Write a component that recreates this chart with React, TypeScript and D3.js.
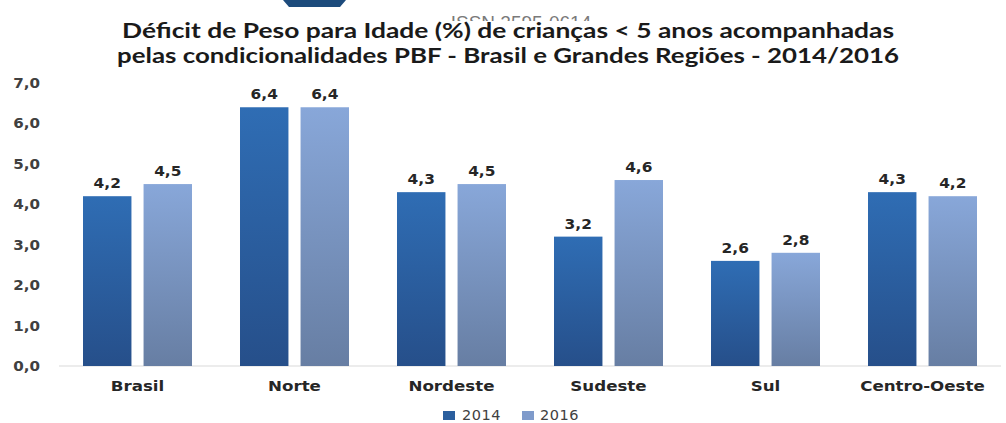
import React from "react"
import * as d3 from "d3"

const WIDTH = 1006
const HEIGHT = 423
const MARGIN = { top: 83, right: 5, bottom: 57, left: 59 }

const categories = ["Brasil", "Norte", "Nordeste", "Sudeste", "Sul", "Centro-Oeste"]
const series = ["2014", "2016"]
const values2014 = [4.2, 6.4, 4.3, 3.2, 2.6, 4.3]
const values2016 = [4.5, 6.4, 4.5, 4.6, 2.8, 4.2]
const yTicks = [0, 1, 2, 3, 4, 5, 6, 7]

const titleLines = [
    "Déficit de Peso para Idade (%) de crianças < 5 anos acompanhadas",
    "pelas condicionalidades PBF - Brasil e Grandes Regiões - 2014/2016",
]

const fmt = (v: number) => v.toFixed(1).replace(".", ",")

// the source image is a bit stretched sideways, so stretch texts the same way
const stretch = (cx: number, cy: number, k: number) =>
    `translate(${cx},${cy}) scale(${k},1) translate(${-cx},${-cy})`

export default function App() {
    const boundsWidth = WIDTH - MARGIN.left - MARGIN.right
    const boundsHeight = HEIGHT - MARGIN.top - MARGIN.bottom

    const x0 = d3.scaleBand().domain(categories).range([0, boundsWidth]).paddingInner(0).paddingOuter(0)
    const x1 = d3.scaleBand().domain(series).range([24, x0.bandwidth() - 24]).paddingInner(0.2)
    const y = d3.scaleLinear().domain([0, 7]).range([boundsHeight, 0])

    const rows = categories.map((c, i) => ({ c, vals: [values2014[i], values2016[i]] }))

    return (
        <svg width={WIDTH} height={HEIGHT} style={{ position: "absolute", left: 0, top: 0, background: "#fff" }}>
            <defs>
                <linearGradient id="g2014" x1="0" y1="0" x2="0" y2="1">
                    <stop offset="0%" stopColor="#2f6db4" />
                    <stop offset="100%" stopColor="#264f8a" />
                </linearGradient>
                <linearGradient id="g2016" x1="0" y1="0" x2="0" y2="1">
                    <stop offset="0%" stopColor="#88a7d9" />
                    <stop offset="100%" stopColor="#677ea3" />
                </linearGradient>
                <clipPath id="issnClip">
                    <rect x={0} y={0} width={WIDTH} height={21} />
                </clipPath>
            </defs>
            <rect width={WIDTH} height={HEIGHT} fill="#fff" />

            {/* header fragment */}
            <path d="M283,0 L346,0 L340,7 L289,7 Z" fill="#1d4b7c" />
            <text x={521} y={29} textAnchor="middle" fontFamily="Liberation Sans, Arial" fontSize={19}
                fill="#7a7a7a" clipPath="url(#issnClip)">ISSN 2595-0614</text>

            {titleLines.map((t, i) => (
                <text key={i} x={508} y={38 + i * 25} textAnchor="middle" fontFamily="Lato" fontWeight="bold"
                    fontSize={21} fill="#1a1a1a" textLength={i === 0 ? 772 : 782} lengthAdjust="spacingAndGlyphs">
                    {t}
                </text>
            ))}

            <g transform={`translate(${MARGIN.left},${MARGIN.top})`}>
                {yTicks.map((t) => (
                    <text key={t} x={-19} y={y(t) + 5} textAnchor="end" fontFamily="DejaVu Sans" fontWeight="bold"
                        fontSize={13.5} fill="#404040" transform={stretch(-19, y(t), 1.12)}>
                        {fmt(t)}
                    </text>
                ))}
                <line x1={0} x2={boundsWidth} y1={boundsHeight} y2={boundsHeight} stroke="#d9d9d9" strokeWidth={1} />

                {rows.map((r) => (
                    <g key={r.c} transform={`translate(${x0(r.c)},0)`}>
                        {r.vals.map((v, j) => {
                            const bx = x1(series[j]) as number
                            const cx = bx + x1.bandwidth() / 2
                            return (
                                <g key={j}>
                                    <rect x={bx} y={y(v)} width={x1.bandwidth()} height={boundsHeight - y(v)}
                                        fill={`url(#g${series[j]})`} />
                                    <text x={cx} y={y(v) - 8} textAnchor="middle"
                                        fontFamily="DejaVu Sans" fontWeight="bold" fontSize={14} fill="#262626"
                                        transform={stretch(cx, y(v), 1.1)}>
                                        {fmt(v)}
                                    </text>
                                </g>
                            )
                        })}
                        <text x={x0.bandwidth() / 2} y={boundsHeight + 25} textAnchor="middle" fontFamily="DejaVu Sans"
                            fontWeight="bold" fontSize={14.5} fill="#262626"
                            transform={stretch(x0.bandwidth() / 2, boundsHeight, 1.15)}>
                            {r.c}
                        </text>
                    </g>
                ))}
            </g>

            <g transform="translate(443,409)">
                <rect x={0} y={2} width={12} height={9} fill="#2b5f9e" />
                <text x={19} y={11} fontFamily="DejaVu Sans" fontSize={14.5} fill="#404040" letterSpacing={0.5}>2014</text>
                <rect x={79} y={2} width={12} height={9} fill="#7f9bcb" />
                <text x={97} y={11} fontFamily="DejaVu Sans" fontSize={14.5} fill="#404040" letterSpacing={0.5}>2016</text>
            </g>
        </svg>
    )
}
